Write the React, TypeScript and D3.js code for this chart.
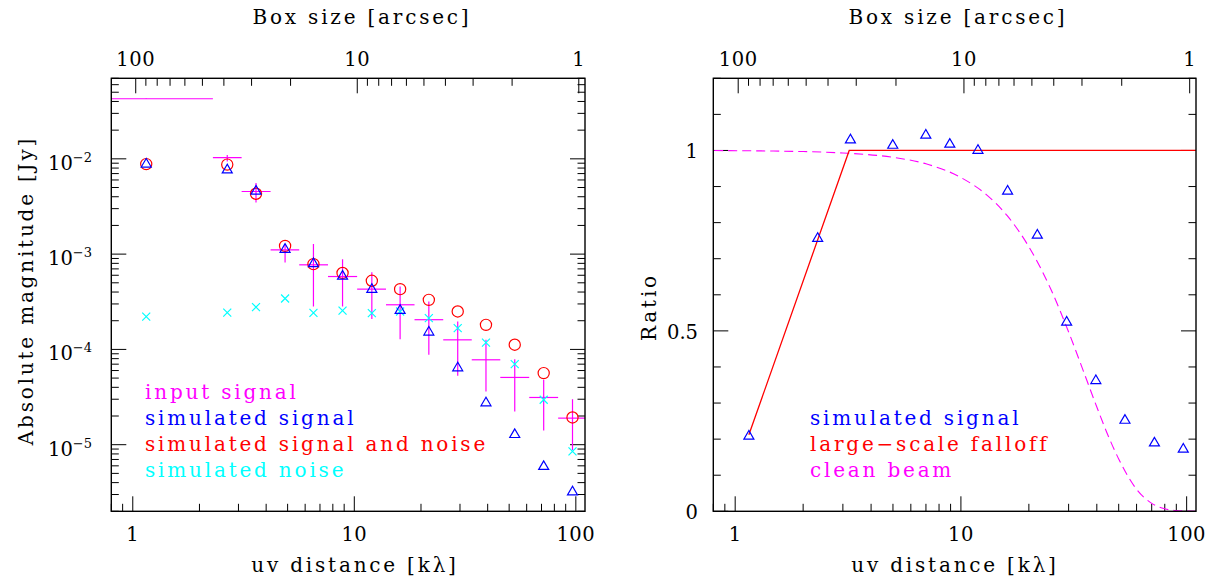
import React, { useEffect } from 'react';
import * as d3 from 'd3';

// ---------- data ----------
// left panel: binned uv distances [kλ]
const uvLeft = [1.15, 2.67, 3.6, 4.87, 6.54, 8.85, 12.0, 16.1, 21.7, 29.3, 39.3, 53.0, 71.6, 96.6];
const binLo = [0.5, 2.3, 3.1, 4.19, 5.64, 7.61, 10.3, 13.9, 18.7, 25.2, 33.9, 45.6, 61.6, 83.2];
const binHi = [2.3, 3.1, 4.19, 5.64, 7.61, 10.3, 13.9, 18.7, 25.2, 33.9, 45.6, 61.6, 83.2, 112];
// input signal (magenta) with error range
const inputSignal = [0.0427, 1.03e-2, 4.54e-3, 1.11e-3, 7.72e-4, 5.82e-4, 4.29e-4, 2.94e-4, 2.05e-4, 1.26e-4, 7.78e-5, 5.08e-5, 3.13e-5, 1.9e-5];
const inputLo = [0.0425, 9.4e-3, 3.49e-3, 8.17e-4, 2.82e-4, 2.82e-4, 2.08e-4, 1.28e-4, 8.78e-5, 5.28e-5, 3.61e-5, 2.23e-5, 1.41e-5, 8.8e-6];
const inputHi = [0.0429, 1.1e-2, 5.56e-3, 1.25e-3, 1.28e-3, 8.83e-4, 6.47e-4, 4.57e-4, 3.18e-4, 1.96e-4, 1.26e-4, 7.9e-5, 4.8e-5, 3.0e-5];
// simulated signal (blue triangles)
const simSignal = [9.1e-3, 7.9e-3, 4.73e-3, 1.16e-3, 8.2e-4, 6.07e-4, 4.4e-4, 2.65e-4, 1.57e-4, 6.62e-5, 2.84e-5, 1.32e-5, 6.1e-6, 3.3e-6];
// simulated signal and noise (red circles)
const simSignalNoise = [8.8e-3, 8.7e-3, 4.3e-3, 1.22e-3, 7.85e-4, 6.35e-4, 5.25e-4, 4.29e-4, 3.31e-4, 2.5e-4, 1.81e-4, 1.12e-4, 5.64e-5, 1.93e-5];
// simulated noise (cyan crosses)
const simNoise = [2.21e-4, 2.43e-4, 2.78e-4, 3.42e-4, 2.42e-4, 2.55e-4, 2.4e-4, 2.5e-4, 2.13e-4, 1.67e-4, 1.18e-4, 7.0e-5, 2.96e-5, 8.5e-6];

// right panel
const uvRight = [1.15, 2.32, 3.24, 4.99, 6.99, 8.93, 11.9, 16.1, 21.8, 29.4, 39.6, 53.3, 72.0, 96.6];
const ratioSignal = [0.212, 0.76, 1.033, 1.018, 1.046, 1.021, 1.004, 0.891, 0.769, 0.528, 0.366, 0.256, 0.193, 0.176];
const falloffUv = [1.15, 3.2, 112];
const falloffRatio = [0.212, 1.0, 1.0];
const beamUv = [0.7, 2, 3, 5, 7, 10, 13, 16, 20, 25, 30, 35, 40, 45, 50, 60, 70, 80, 90, 112];
const beamRatio = [1.0, 0.997, 0.993, 0.981, 0.963, 0.925, 0.877, 0.82, 0.733, 0.616, 0.497, 0.386, 0.289, 0.208, 0.145, 0.061, 0.022, 0.007, 0.002, 0.0];

// axes
const uvDomain = [0.8, 110];
const magDomain = [2e-6, 0.07];
const ratioDomain = [0, 1.2];
const uvTickLabels = [1, 10, 100];
const boxTickLabels = [100, 10, 1];
const magTickExponents = [-2, -3, -4, -5];
const ratioTickLabels = [0, 0.5, 1];
const ARCSEC_PER_KLAMBDA = 103.13; // box size [arcsec] = constant / uv [kλ]

const leftLegend = [
  { text: 'input signal', color: '#ff00ff' },
  { text: 'simulated signal', color: '#0000ff' },
  { text: 'simulated signal and noise', color: '#ff0000' },
  { text: 'simulated noise', color: '#00ffff' },
];
const rightLegend = [
  { text: 'simulated signal', color: '#0000ff' },
  { text: 'large\u2212scale falloff', color: '#ff0000' },
  { text: 'clean beam', color: '#ff00ff' },
];

// ---------- styling ----------
const FONT = "'DejaVu Serif', serif";
const MAJ = 15;
const MIN = 7.5;
const TOP = 78.3;
const BOT = 511.3;

function logTicks(lo: number, hi: number) {
  const out: { v: number; major: boolean }[] = [];
  for (let k = Math.floor(Math.log10(lo)); k <= Math.ceil(Math.log10(hi)); k++) {
    for (let m = 1; m <= 9; m++) {
      const v = m * Math.pow(10, k);
      if (v >= lo * 0.9999 && v <= hi * 1.0001) out.push({ v, major: m === 1 });
    }
  }
  return out;
}

function XAxes({ x, topTitleX, botTitleX }: { x: d3.ScaleLogarithmic<number, number>; topTitleX: number; botTitleX: number }) {
  const uvT = logTicks(uvDomain[0], uvDomain[1]);
  const boxLo = ARCSEC_PER_KLAMBDA / uvDomain[1];
  const boxHi = ARCSEC_PER_KLAMBDA / uvDomain[0];
  const boxT = logTicks(boxLo, boxHi);
  return (
    <g>
      {uvT.map((t, i) => (
        <line key={'b' + i} x1={x(t.v)} x2={x(t.v)} y1={BOT} y2={BOT - (t.major ? MAJ : MIN)} stroke="#000" strokeWidth={1} />
      ))}
      {boxT.map((t, i) => {
        const xv = x(ARCSEC_PER_KLAMBDA / t.v);
        return <line key={'t' + i} x1={xv} x2={xv} y1={TOP} y2={TOP + (t.major ? MAJ : MIN)} stroke="#000" strokeWidth={1} />;
      })}
      {uvTickLabels.map((v) => (
        <text key={'bl' + v} x={x(v)} y={541} textAnchor="middle" fontSize={19.5} fontFamily={FONT} letterSpacing={0.5}>{v}</text>
      ))}
      {boxTickLabels.map((v) => (
        <text key={'tl' + v} x={x(ARCSEC_PER_KLAMBDA / v)} y={66} textAnchor="middle" fontSize={19.5} fontFamily={FONT} letterSpacing={0.5}>{v}</text>
      ))}
      <text x={topTitleX} y={24} textAnchor="middle" fontSize={20} fontFamily={FONT} letterSpacing={2.8}>Box size [arcsec]</text>
      <text x={botTitleX} y={571.5} textAnchor="middle" fontSize={20} fontFamily={FONT} letterSpacing={2.8}>uv distance [kλ]</text>
    </g>
  );
}

function Triangle({ cx, cy, color }: { cx: number; cy: number; color: string }) {
  const h = 8.6, w = 10;
  const d = `M${cx},${cy - h / 2}L${cx - w / 2},${cy + h / 2}L${cx + w / 2},${cy + h / 2}Z`;
  return <path d={d} fill="none" stroke={color} strokeWidth={1.2} />;
}

function Cross({ cx, cy, color }: { cx: number; cy: number; color: string }) {
  const s = 4;
  return (
    <path d={`M${cx - s},${cy - s}L${cx + s},${cy + s}M${cx - s},${cy + s}L${cx + s},${cy - s}`} stroke={color} strokeWidth={1.2} fill="none" />
  );
}

function LeftPanel() {
  const x0 = 111.3, x1 = 585;
  const x = d3.scaleLog().domain(uvDomain).range([x0, x1]);
  const y = d3.scaleLog().domain(magDomain).range([BOT, TOP]);
  const yT = logTicks(magDomain[0], magDomain[1]);
  return (
    <g>
      <defs>
        <clipPath id="clipL"><rect x={x0} y={TOP} width={x1 - x0} height={BOT - TOP} /></clipPath>
      </defs>
      <XAxes x={x} topTitleX={362} botTitleX={355} />
      {yT.map((t, i) => (
        <g key={'y' + i}>
          <line x1={x0} x2={x0 + (t.major ? MAJ : MIN)} y1={y(t.v)} y2={y(t.v)} stroke="#000" strokeWidth={1} />
          <line x1={x1} x2={x1 - (t.major ? MAJ : MIN)} y1={y(t.v)} y2={y(t.v)} stroke="#000" strokeWidth={1} />
        </g>
      ))}
      {magTickExponents.map((e) => (
        <text key={'yl' + e} x={92} y={y(Math.pow(10, e)) + 11} textAnchor="end" fontSize={19.5} fontFamily={FONT}>
          10<tspan dy={-8} fontSize={13}>{'\u2212' + Math.abs(e)}</tspan>
        </text>
      ))}
      <text transform={`translate(33,290.5) rotate(-90)`} textAnchor="middle" fontSize={20} fontFamily={FONT} letterSpacing={2.8}>Absolute magnitude [Jy]</text>
      <g clipPath="url(#clipL)">
        {uvLeft.map((u, i) => (
          <g key={'e' + i} stroke="#ff00ff" strokeWidth={1.2}>
            <line x1={x(binLo[i])} x2={x(binHi[i])} y1={y(inputSignal[i])} y2={y(inputSignal[i])} />
            <line x1={x(u)} x2={x(u)} y1={y(inputLo[i])} y2={y(inputHi[i])} />
          </g>
        ))}
        {uvLeft.map((u, i) => (
          <Cross key={'n' + i} cx={x(u)} cy={y(simNoise[i])} color="#00ffff" />
        ))}
        {uvLeft.map((u, i) => (
          <circle key={'c' + i} cx={x(u)} cy={y(simSignalNoise[i])} r={5.6} fill="none" stroke="#ff0000" strokeWidth={1.2} />
        ))}
        {uvLeft.map((u, i) => (
          <Triangle key={'s' + i} cx={x(u)} cy={y(simSignal[i])} color="#0000ff" />
        ))}
      </g>
      <rect x={x0} y={TOP} width={x1 - x0} height={BOT - TOP} fill="none" stroke="#000" strokeWidth={1.4} />
      {leftLegend.map((l, i) => (
        <text key={l.text} x={145} y={399 + i * 26} fontSize={20} fontFamily={FONT} letterSpacing={2.8} fill={l.color}>{l.text}</text>
      ))}
    </g>
  );
}

function RightPanel() {
  const x0 = 713.3, x1 = 1196;
  const x = d3.scaleLog().domain(uvDomain).range([x0, x1]);
  const y = d3.scaleLinear().domain(ratioDomain).range([BOT, TOP]);
  const yT = d3.range(0, 13).map((k) => ({ v: k / 10, major: k % 5 === 0 }));
  const falloff = d3.line<number>().x((d, i) => x(falloffUv[i])).y((d) => y(d));
  const beam = d3.line<number>().x((d, i) => x(beamUv[i])).y((d) => y(d)).curve(d3.curveMonotoneX);
  return (
    <g>
      <defs>
        <clipPath id="clipR"><rect x={x0} y={TOP} width={x1 - x0} height={BOT - TOP} /></clipPath>
      </defs>
      <XAxes x={x} topTitleX={958} botTitleX={955} />
      {yT.map((t, i) => (
        <g key={'y' + i}>
          <line x1={x0} x2={x0 + (t.major ? MAJ : MIN)} y1={y(t.v)} y2={y(t.v)} stroke="#000" strokeWidth={1} />
          <line x1={x1} x2={x1 - (t.major ? MAJ : MIN)} y1={y(t.v)} y2={y(t.v)} stroke="#000" strokeWidth={1} />
        </g>
      ))}
      {ratioTickLabels.map((v) => (
        <text key={'yl' + v} x={698} y={y(v) + 8} textAnchor="end" fontSize={19.5} fontFamily={FONT}>{v}</text>
      ))}
      <text transform={`translate(656,307) rotate(-90)`} textAnchor="middle" fontSize={20} fontFamily={FONT} letterSpacing={2.8}>Ratio</text>
      <g clipPath="url(#clipR)">
        <path d={beam(beamRatio) || ''} fill="none" stroke="#ff00ff" strokeWidth={1.1} strokeDasharray="9,5" />
        <path d={falloff(falloffRatio) || ''} fill="none" stroke="#ff0000" strokeWidth={1.3} />
        {uvRight.map((u, i) => (
          <Triangle key={'s' + i} cx={x(u)} cy={y(ratioSignal[i])} color="#0000ff" />
        ))}
      </g>
      <rect x={x0} y={TOP} width={x1 - x0} height={BOT - TOP} fill="none" stroke="#000" strokeWidth={1.4} />
      {rightLegend.map((l, i) => (
        <text key={l.text} x={810} y={425 + i * 26} fontSize={20} fontFamily={FONT} letterSpacing={2.8} fill={l.color}>{l.text}</text>
      ))}
    </g>
  );
}

export default function App() {
  useEffect(() => {
    document.body.style.margin = '0';
  }, []);
  return (
    <svg width={1213} height={578} style={{ position: 'absolute', left: 0, top: 0, background: '#fff' }}>
      <rect x={0} y={0} width={1213} height={578} fill="#fff" />
      <LeftPanel />
      <RightPanel />
    </svg>
  );
}
